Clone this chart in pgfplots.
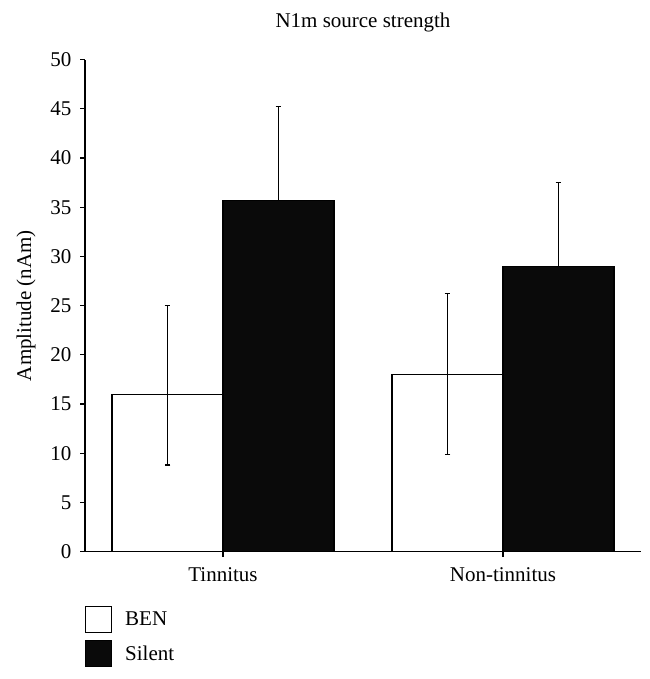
\documentclass[border=0pt]{standalone}
\usepackage{pgfplots}
\pgfplotsset{compat=1.18}
\usepackage{pgfplotstable}
\usepackage{fontspec}
\setmainfont{Liberation Serif}

\pgfplotstableread{
x y ep em
0 16.0 9.0 7.2
1 18.0 8.2 8.1
}\benData
\pgfplotstableread{
x y ep em
0 35.7 9.5 9.5
1 29.0 8.5 8.5
}\silentData

\begin{document}
\begin{tikzpicture}
\useasboundingbox (-85pt,-127.4pt) rectangle (564pt,551.6pt);
\begin{axis}[
  at={(0pt,0pt)}, anchor=south west,
  scale only axis,
  width=556pt, height=492pt,
  xmin=-0.493, xmax=1.493,
  ymin=0, ymax=50,
  ytick={0,5,...,50},
  xtick={0,1},
  xticklabels={Tinnitus,Non-tinnitus},
  axis x line*=bottom,
  axis y line*=left,
  axis line style={line width=1.5pt},
  tick style={line width=1.3pt, black},
  tick align=outside,
  major tick length=5pt,
  ybar=0pt,
  bar width=111pt,
  /pgf/number format/assume math mode=true,
  tick label style={font=\fontsize{21}{25}\selectfont},
  xticklabel style={anchor=base, yshift=-24.5pt},
  yticklabel style={xshift=-5pt},
  ylabel={Amplitude (nAm)},
  ylabel style={font=\fontsize{21}{25}\selectfont, at={(axis description cs:-0.106,0.5)}, anchor=center},
  title={N1m source strength},
  title style={font=\fontsize{21}{25}\selectfont, at={(axis description cs:0.5,1)}, anchor=base, yshift=25.6pt},
  legend style={font=\fontsize{21}{25}\selectfont, draw=none, fill=none,
    at={(axis description cs:0,0)}, anchor=north west, yshift=-54.4pt,
    inner sep=0pt, outer sep=0pt, row sep=7pt,
    nodes={inner sep=0pt, outer sep=0pt, anchor=west}},
  legend cell align=left,
  /tikz/every odd column/.append style={column sep=13pt},
  clip=false,
]
\addplot[draw=black, fill=white, line width=1.2pt,
  legend image code/.code={\draw[draw=black, fill=white, line width=1.2pt] (0pt,-13pt) rectangle (26pt,13pt);},
  error bars/.cd, y dir=both, y explicit,
  error bar style={line width=1.2pt, black},
  error mark options={black, line width=1.3pt, mark size=2.8pt, rotate=90}]
  table[x=x, y=y, y error plus=ep, y error minus=em]{\benData};
\addlegendentry{BEN}
\addplot[draw=black, fill=black!96, line width=1.2pt,
  legend image code/.code={\draw[draw=black, fill=black!96, line width=1.2pt] (0pt,-13pt) rectangle (26pt,13pt);},
  error bars/.cd, y dir=plus, y explicit,
  error bar style={line width=1.2pt, black},
  error mark options={black, line width=1.3pt, mark size=2.8pt, rotate=90}]
  table[x=x, y=y, y error plus=ep, y error minus=em]{\silentData};
\addlegendentry{Silent}
\end{axis}
\end{tikzpicture}
\end{document}
